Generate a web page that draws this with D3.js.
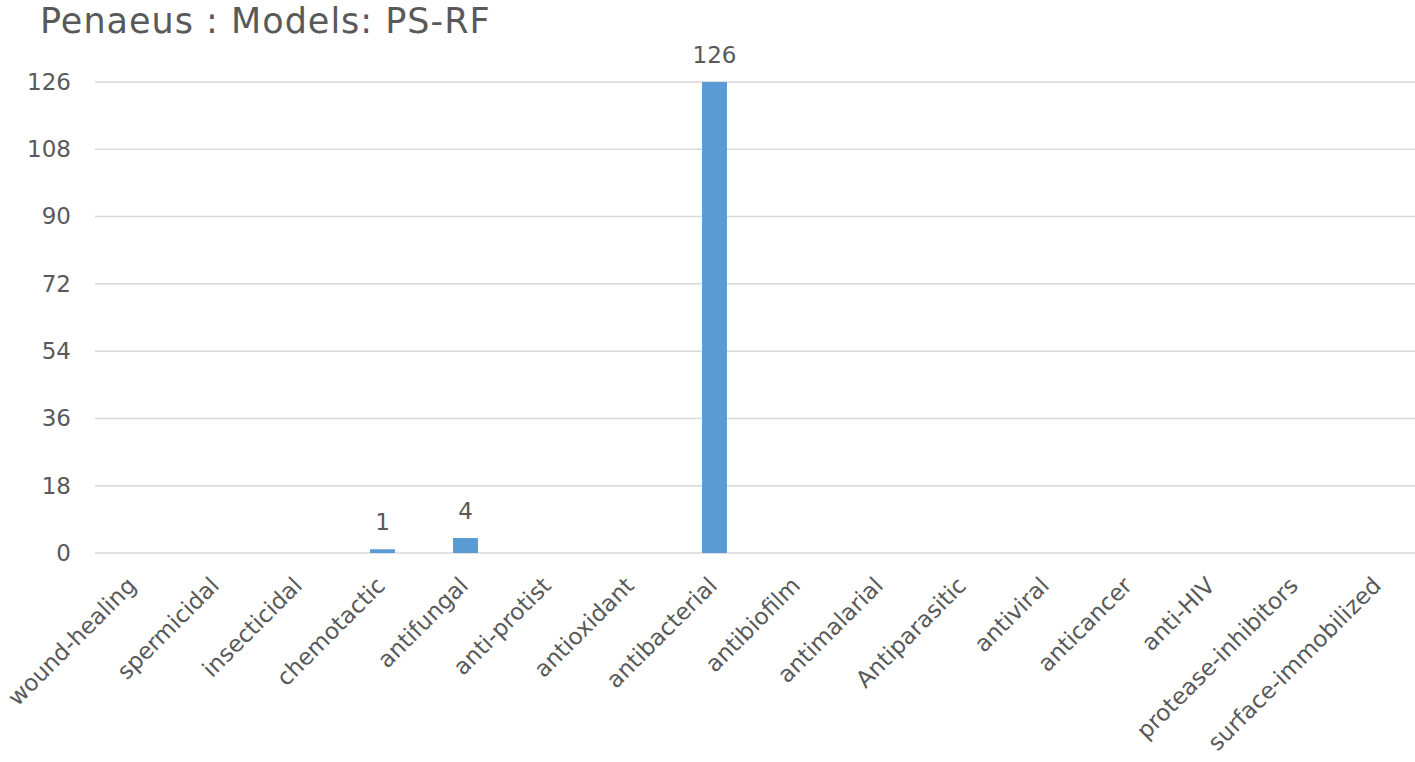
<!DOCTYPE html>
<html>
<head>
<meta charset="utf-8">
<script src="https://cdn.jsdelivr.net/npm/d3@7"></script>
<style>
  body { margin: 0; background: #fff; }
  svg text { font-family: "DejaVu Sans", sans-serif; fill: #595959; }
</style>
</head>
<body>
<div id="chart"></div>
<script>
const categories = [
  "wound-healing", "spermicidal", "insecticidal", "chemotactic", "antifungal",
  "anti-protist", "antioxidant", "antibacterial", "antibiofilm", "antimalarial",
  "Antiparasitic", "antiviral", "anticancer", "anti-HIV", "protease-inhibitors",
  "surface-immobilized"
];
const counts = [0, 0, 0, 1, 4, 0, 0, 126, 0, 0, 0, 0, 0, 0, 0, 0];
const yTicks = [0, 18, 36, 54, 72, 90, 108, 126];
const title = "Penaeus : Models: PS-RF";

const width = 1415, height = 762;
const margin = { top: 82, right: -5, bottom: 209, left: 92 };

const svg = d3.select("#chart")
  .append("svg")
  .attr("width", width)
  .attr("height", height);

const data = categories.map((c, i) => ({ cat: c, value: counts[i] }));

const x = d3.scaleBand()
  .domain(categories)
  .range([margin.left, width - margin.right])
  .paddingInner(0.7)
  .paddingOuter(0.35);

const y = d3.scaleLinear()
  .domain([0, 126])
  .range([height - margin.bottom, margin.top]);

// title
svg.append("text")
  .attr("x", 40)
  .attr("y", 33)
  .attr("font-size", 35)
  .attr("letter-spacing", 1)
  .text(title);

// gridlines
svg.append("g")
  .selectAll("line")
  .data(yTicks)
  .join("line")
  .attr("x1", margin.left + 3)
  .attr("x2", width)
  .attr("y1", d => y(d))
  .attr("y2", d => y(d))
  .attr("stroke", "#d9d9d9")
  .attr("stroke-width", 1.5);

// y axis labels
const yAxis = d3.axisLeft(y).tickValues(yTicks).tickSize(0).tickPadding(0);
const gy = svg.append("g")
  .attr("transform", "translate(" + (margin.left - 21) + ",0)")
  .call(yAxis);
gy.select(".domain").remove();
gy.selectAll("text")
  .attr("font-size", 23)
  .attr("font-family", null)
  .attr("fill", "#595959");

// bars
svg.append("g")
  .selectAll("rect")
  .data(data.filter(d => d.value > 0))
  .join("rect")
  .attr("x", d => x(d.cat))
  .attr("y", d => y(d.value))
  .attr("width", x.bandwidth())
  .attr("height", d => y(0) - y(d.value))
  .attr("fill", "#5b9bd5");

// data labels
svg.append("g")
  .selectAll("text")
  .data(data.filter(d => d.value > 0))
  .join("text")
  .attr("x", d => x(d.cat) + x.bandwidth() / 2)
  .attr("y", d => y(d.value) - 19)
  .attr("text-anchor", "middle")
  .attr("font-size", 23)
  .text(d => d.value);

// x axis labels
const xAxis = d3.axisBottom(x).tickSize(0).tickPadding(0);
const gx = svg.append("g")
  .attr("transform", "translate(0," + (y(0)) + ")")
  .call(xAxis);
gx.select(".domain").remove();
gx.selectAll("text")
  .attr("font-size", 23)
  .attr("font-family", null)
  .attr("fill", "#595959")
  .attr("text-anchor", "end")
  .attr("dy", null)
  .attr("y", 0)
  .attr("transform", "translate(4,34) rotate(-45)");
</script>
</body>
</html>
